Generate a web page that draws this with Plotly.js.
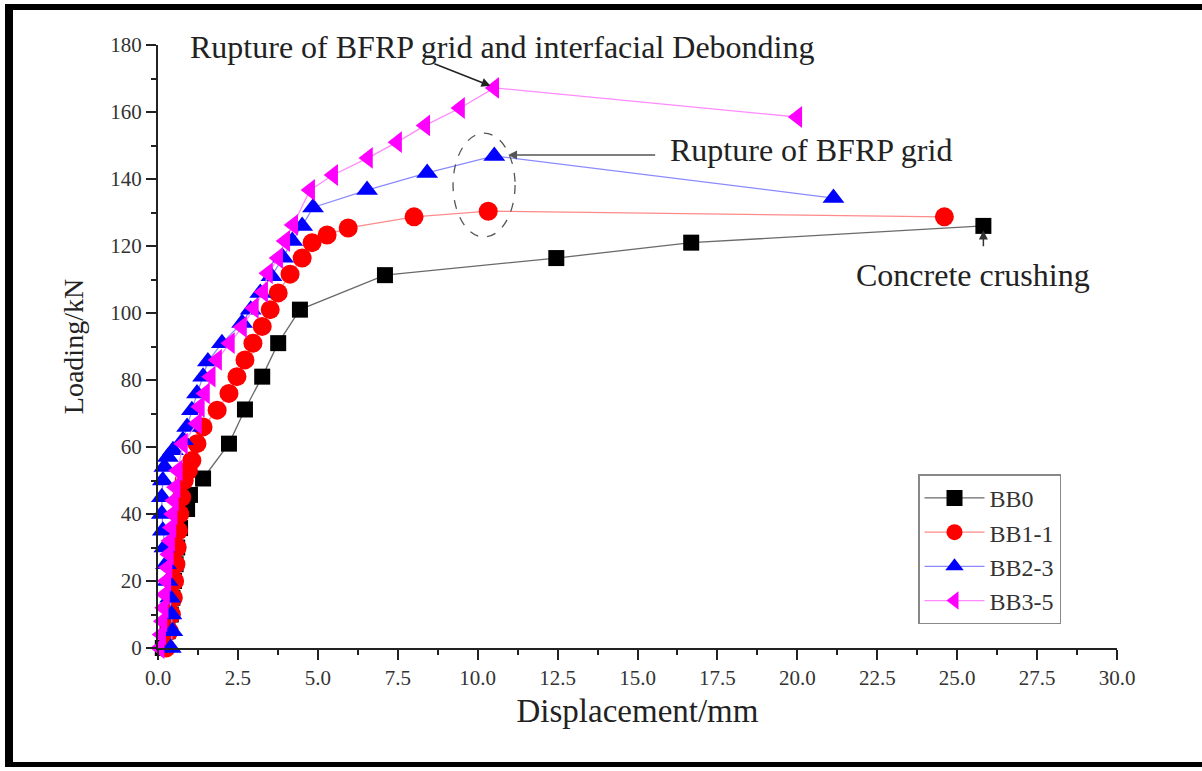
<!DOCTYPE html>
<html>
<head>
<meta charset="utf-8">
<script src="https://cdn.plot.ly/plotly-3.0.1.min.js"></script>
<style>
  html, body { margin: 0; padding: 0; background: #fff; overflow: hidden; }
  #frame { position: absolute; left: 5px; top: 4px; width: 1197px; height: 763px;
           border-left: 8px solid #000; border-top: 6px solid #000; border-bottom: 5px solid #000; border-right: none; box-sizing: border-box; }
  #chart { position: absolute; left: 0; top: 0; width: 1202px; height: 771px; }
</style>
</head>
<body>
<div id="frame"></div>
<div id="chart"></div>
<script>
// ---- Data ----
const seriesNames = ["BB0", "BB1-1", "BB2-3", "BB3-5"];

const bb0_x = [0.15, 0.3, 0.4, 0.45, 0.5, 0.55, 0.6, 0.69, 0.91, 1.0, 1.41, 2.22, 2.72, 3.26, 3.76, 4.44, 7.1, 12.46, 16.68, 25.82];
const bb0_y = [0, 5, 10, 15, 20, 25, 30, 35.8, 41.5, 45.7, 50.6, 61, 71.2, 81, 91, 101, 111.3, 116.4, 121, 126];

const bb1_x = [0.25, 0.35, 0.42, 0.48, 0.52, 0.56, 0.6, 0.64, 0.68, 0.74, 0.82, 0.95, 1.06, 1.22, 1.41, 1.85, 2.22, 2.47, 2.72, 2.97, 3.26, 3.51, 3.76, 4.13, 4.51, 4.82, 5.29, 5.95, 8.01, 10.33, 24.6];
const bb1_y = [0, 5, 10, 15, 20, 25, 30, 35, 40, 45, 50, 53, 56, 61, 66, 71, 76, 81, 86, 91, 96, 101, 106, 111.6, 116.4, 121, 123.3, 125.4, 128.7, 130.4, 128.7];

const bb2_x = [0.4, 0.45, 0.42, 0.38, 0.3, 0.25, 0.2, 0.15, 0.12, 0.12, 0.15, 0.2, 0.31, 0.47, 0.78, 0.91, 1.06, 1.22, 1.41, 1.56, 2.0, 2.63, 2.9, 3.2, 3.55, 3.91, 4.2, 4.51, 4.85, 6.54, 8.42, 10.52, 21.13];
const bb2_y = [0, 5, 10, 15, 20, 25, 30, 35, 40, 45, 50, 54, 57, 59, 62, 66, 71, 76, 81, 85.5, 91, 97, 101, 106, 111, 116.5, 121.5, 126, 131.5, 136.7, 141.8, 146.9, 134.3];

const bb3_x = [0.05, 0.1, 0.14, 0.18, 0.22, 0.26, 0.3, 0.34, 0.38, 0.42, 0.46, 0.5, 0.55, 0.62, 0.78, 1.22, 1.31, 1.47, 1.65, 1.85, 2.25, 2.63, 3.0, 3.29, 3.44, 3.76, 3.98, 4.23, 4.76, 5.48, 6.57, 7.48, 8.36, 9.45, 10.52, 20.0];
const bb3_y = [0, 4, 8, 12, 16, 20, 24, 28, 32, 36, 40, 44, 48, 53, 61, 67, 72, 76, 81, 86, 91, 95.8, 101.5, 106.3, 111.9, 116.4, 121.5, 126.3, 136.7, 141.2, 146.3, 151, 156, 161.2, 167.2, 158.5];

const xTickVals = [0, 2.5, 5, 7.5, 10, 12.5, 15, 17.5, 20, 22.5, 25, 27.5, 30];
const yTickVals = [0, 20, 40, 60, 80, 100, 120, 140, 160, 180];

const labelPeakBFRP = "Rupture of BFRP grid and interfacial Debonding";
const labelRupture = "Rupture of BFRP grid";
const labelCrush = "Concrete crushing";

// ---- Styles ----
const FONT = "Liberation Serif, Times New Roman, serif";
const styles = [
  { line: "#6a6a6a", marker: "#000000", symbol: "square", size: 16 },
  { line: "#ff8a8a", marker: "#ff0000", symbol: "circle", size: 19 },
  { line: "#8a8aff", marker: "#0000ff", symbol: "triangle-up", size: 19 },
  { line: "#ff8aff", marker: "#ff00ff", symbol: "triangle-left", size: 19 }
];
const xs = [bb0_x, bb1_x, bb2_x, bb3_x];
const ys = [bb0_y, bb1_y, bb2_y, bb3_y];

const traces = seriesNames.map((n, i) => ({
  type: "scatter", mode: "lines+markers", name: n,
  x: xs[i], y: ys[i], cliponaxis: false,
  line: { color: styles[i].line, width: 1.3 },
  marker: { color: styles[i].marker, symbol: styles[i].symbol, size: styles[i].size, line: { width: 0 } }
}));

const layout = {
  width: 1202, height: 771,
  paper_bgcolor: "rgba(0,0,0,0)", plot_bgcolor: "rgba(0,0,0,0)",
  margin: { l: 158, r: 85, t: 45, b: 123 },
  font: { family: FONT, color: "#222", size: 21 },
  showlegend: true,
  legend: {
    x: 0.7925, y: 0.288, xanchor: "left", yanchor: "top",
    bgcolor: "#fff", bordercolor: "#888", borderwidth: 1.5,
    font: { family: FONT, size: 24, color: "#333" },
    itemwidth: 60, tracegroupgap: 0
  },
  xaxis: {
    range: [0, 30], tickvals: xTickVals, tickformat: ".1f",
    showline: true, linecolor: "#222", linewidth: 2,
    ticks: "outside", ticklen: 10, tickwidth: 2, tickcolor: "#222",
    minor: { ticks: "outside", ticklen: 5, tickwidth: 2, tickcolor: "#222", dtick: 1.25, showgrid: false },
    showgrid: false, zeroline: false,
    tickfont: { family: FONT, size: 21, color: "#333" },
    title: { text: "Displacement/mm", font: { family: FONT, size: 33, color: "#222" }, standoff: 10 }
  },
  yaxis: {
    range: [0, 180], tickvals: yTickVals,
    showline: true, linecolor: "#222", linewidth: 2,
    ticks: "outside", ticklen: 10, tickwidth: 2, tickcolor: "#222",
    minor: { ticks: "outside", ticklen: 5, tickwidth: 2, tickcolor: "#222", dtick: 10, showgrid: false },
    showgrid: false, zeroline: false,
    tickfont: { family: FONT, size: 21, color: "#333" },
    title: { text: "Loading/kN", font: { family: FONT, size: 28, color: "#222" }, standoff: 18 }
  },
  shapes: [
    { type: "circle", xref: "x", yref: "y", x0: 9.23, x1: 11.17, y0: 122.7, y1: 153.7,
      line: { color: "#555", width: 1.3, dash: "dash" } }
  ],
  annotations: [
    { x: 10.77, y: 179.4, xref: "x", yref: "y", text: labelPeakBFRP, showarrow: false,
      font: { family: FONT, size: 32, color: "#222" }, xanchor: "center", yanchor: "middle" },
    { x: 10.4, y: 167.8, ax: 8.6, ay: 174.6, axref: "x", ayref: "y", xref: "x", yref: "y",
      text: "", showarrow: true, arrowhead: 2, arrowsize: 1.2, arrowwidth: 1.5, arrowcolor: "#222" },
    { x: 20.44, y: 148.7, xref: "x", yref: "y", text: labelRupture, showarrow: false,
      font: { family: FONT, size: 32, color: "#222" }, xanchor: "center", yanchor: "middle" },
    { x: 10.95, y: 147.2, ax: 15.6, ay: 147.2, axref: "x", ayref: "y", xref: "x", yref: "y",
      text: "", showarrow: true, arrowhead: 2, arrowsize: 1.2, arrowwidth: 1.5, arrowcolor: "#555" },
    { x: 25.48, y: 111.3, xref: "x", yref: "y", text: labelCrush, showarrow: false,
      font: { family: FONT, size: 32, color: "#222" }, xanchor: "center", yanchor: "middle" },
    { x: 25.82, y: 124.6, ax: 25.82, ay: 119.5, axref: "x", ayref: "y", xref: "x", yref: "y",
      text: "", showarrow: true, arrowhead: 2, arrowsize: 1.2, arrowwidth: 1.5, arrowcolor: "#333" }
  ]
};

Plotly.newPlot("chart", traces, layout, { displayModeBar: false, staticPlot: true });
</script>
</body>
</html>
